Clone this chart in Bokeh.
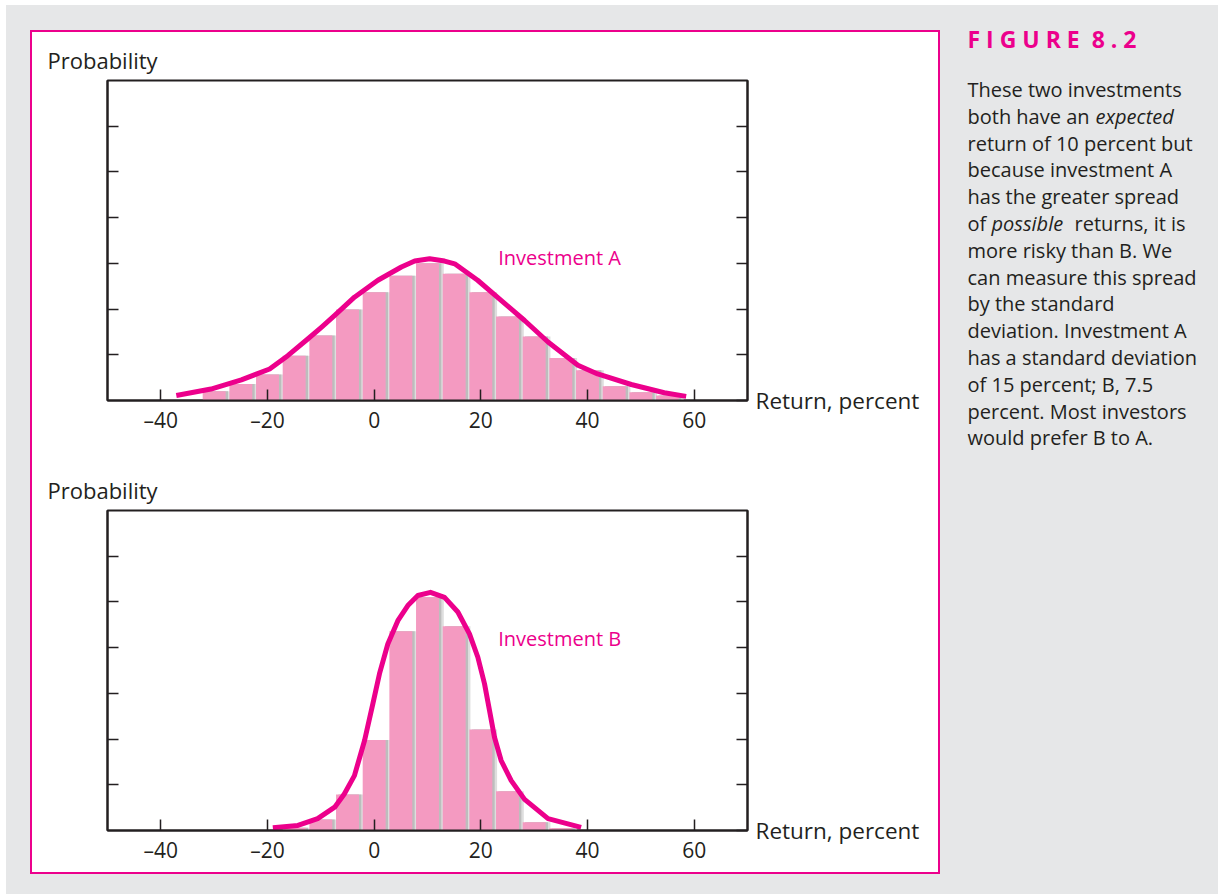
from bokeh.plotting import figure
from bokeh.models import (Range1d, LinearAxis, FixedTicker, Label, Column, Row,
                          ColumnDataSource, CustomJSTickFormatter)
from bokeh.transform import dodge
from bokeh.embed import file_html
from bokeh.resources import INLINE

# ---------------- data ----------------
bins_a = [-30, -25, -20, -15, -10, -5, 0, 5, 10, 15, 20, 25, 30, 35, 40, 45, 50, 55]
heights_a = [0.20, 0.36, 0.57, 0.98, 1.42, 1.99, 2.37, 2.73, 3.00, 2.77, 2.37, 1.84,
             1.40, 0.93, 0.66, 0.31, 0.18, 0.11]
curve_a_x = [-37.1, -30.6, -24.9, -19.6, -16.2, -12.4, -9.9, -7.4, -3.7, 0.7, 5.1, 7.6,
             10.4, 13.2, 15.1, 19.4, 23.8, 28.2, 32.6, 38.2, 41.9, 48.2, 54.4, 58.5]
curve_a_y = [0.11, 0.25, 0.45, 0.69, 0.98, 1.35, 1.60, 1.86, 2.26, 2.63, 2.92, 3.05,
             3.10, 3.05, 2.99, 2.63, 2.19, 1.75, 1.28, 0.77, 0.58, 0.35, 0.17, 0.09]

bins_b = [-15, -10, -5, 0, 5, 10, 15, 20, 25, 30, 35]
heights_b = [0.06, 0.24, 0.79, 1.98, 4.36, 5.10, 4.47, 2.21, 0.86, 0.18, 0.05]
curve_b_x = [-19.0, -14.3, -10.6, -7.4, -5.6, -3.7, -1.8, -0.25, 1.0, 2.56, 4.44, 6.31,
             8.19, 10.56, 13.19, 15.69, 17.87, 19.44, 20.69, 21.62, 22.56, 23.81, 25.7,
             28.2, 32.6, 38.8]
curve_b_y = [0.06, 0.11, 0.26, 0.51, 0.80, 1.20, 1.97, 2.77, 3.43, 4.08, 4.59, 4.92,
             5.14, 5.21, 5.10, 4.78, 4.30, 3.79, 3.21, 2.63, 2.04, 1.53, 1.09,
             0.68, 0.26, 0.07]

x_ticks = [-40, -20, 0, 20, 40, 60]
x_tick_labels = ["\u201340", "\u201320", "0", "20", "40", "60"]
y_ticks = [1, 2, 3, 4, 5, 6]

y_label = "Probability"
x_label = "Return, percent"
figure_title = "F\u00a0I\u00a0G\u00a0U\u00a0R\u00a0E\u00a0\u00a08\u00a0.\u00a02"
caption_lines = [
    [("These two investments", "normal")],
    [("both have an ", "normal"), ("expected", "italic")],
    [("return of 10 percent but", "normal")],
    [("because investment A", "normal")],
    [("has the greater spread", "normal")],
    [("of ", "normal"), ("possible", "italic"), ("returns, it is", "normal")],
    [("more risky than B. We", "normal")],
    [("can measure this spread", "normal")],
    [("by the standard", "normal")],
    [("deviation. Investment A", "normal")],
    [("has a standard deviation", "normal")],
    [("of 15 percent; B, 7.5", "normal")],
    [("percent. Most investors", "normal")],
    [("would prefer B to A.", "normal")],
]
# x start of each segment inside the caption column (pixels)
caption_seg_x = [[27], [27, 155], [27], [27], [27], [27, 51, 134], [27], [27], [27],
                 [27], [27], [27], [27], [27]]

# ---------------- style ----------------
INK = "#231f20"
MAG = "#ec008c"
PINK = "#f49ac1"
GRAY = "#e6e7e8"
FONT = "Open Sans"


def style_axis(ax):
    ax.major_tick_in = 11
    ax.major_tick_out = 0
    ax.minor_tick_line_color = None
    ax.axis_line_color = INK
    ax.axis_line_width = 2
    ax.major_tick_line_color = INK
    ax.major_tick_line_width = 1.5
    ax.major_label_text_font = FONT
    ax.major_label_text_font_size = "21px"
    ax.major_label_text_color = INK


def make_panel(bins, heights, cx, cy, name, name_x, name_y, height, top, bottom):
    p = figure(width=906, height=height, x_range=Range1d(-50, 70), y_range=Range1d(0, 7),
               output_backend="svg", toolbar_location=None,
               min_border_left=75, min_border_right=191,
               min_border_top=top, min_border_bottom=bottom,
               background_fill_color="white", border_fill_color="white",
               outline_line_color=INK, outline_line_width=2)
    p.grid.visible = False
    src = ColumnDataSource(dict(x=bins, top=heights))
    p.vbar(x=dodge("x", 0.9, range=p.x_range), top="top", width=4.3, source=src,
           fill_color="#dedede", line_color=None)
    p.vbar(x=dodge("x", 0.45, range=p.x_range), top="top", width=4.3, source=src,
           fill_color="#bdbdbd", line_color=None)
    p.vbar(x="x", top="top", width=4.3, source=src, fill_color=PINK, line_color=None)
    p.line(cx, cy, line_width=5, line_color=MAG, line_join="round")

    # title used as the "Probability" caption above the frame
    p.title.text = y_label
    p.title.align = "left"
    p.title.offset = -60
    p.title.standoff = 12
    p.title.text_font = FONT
    p.title.text_font_size = "22px"
    p.title.text_font_style = "normal"
    p.title.text_color = INK

    xa = p.xaxis[0]
    xa.ticker = FixedTicker(ticks=x_ticks)
    xa.formatter = CustomJSTickFormatter(
        args=dict(xt=x_ticks, xl=x_tick_labels),
        code="const i = xt.indexOf(tick); return i >= 0 ? xl[i] : String(tick);")
    style_axis(xa)
    xa.major_label_standoff = 5

    ya = p.yaxis[0]
    ya.ticker = FixedTicker(ticks=y_ticks)
    style_axis(ya)
    ya.major_label_text_font_size = "0px"
    ya.major_label_text_color = None

    ra = LinearAxis(ticker=FixedTicker(ticks=[0] + y_ticks),
                    formatter=CustomJSTickFormatter(
                        args=dict(lab=x_label),
                        code="return tick == 0 ? lab : '';"))
    p.add_layout(ra, "right")
    style_axis(ra)
    ra.major_label_text_font_size = "22.5px"
    ra.major_label_standoff = 8

    p.add_layout(Label(x=name_x, y=name_y, text=name, text_font=FONT,
                       text_font_size="20px", text_color=MAG,
                       text_baseline="alphabetic", text_align="left"))
    return p


fig_a = make_panel(bins_a, heights_a, curve_a_x, curve_a_y, "Investment A", 23.25, 3.13,
                   430, 48, 62)
fig_b = make_panel(bins_b, heights_b, curve_b_x, curve_b_y, "Investment B", 23.25, 4.19,
                   410, 48, 42)

CAP_W, CAP_H = 278, 889
cap = figure(width=CAP_W, height=CAP_H, x_range=Range1d(0, CAP_W),
             y_range=Range1d(CAP_H, 0), title_location=None,
             output_backend="svg", toolbar_location=None, x_axis_type=None,
             y_axis_type=None, min_border=0, background_fill_color=GRAY,
             border_fill_color=GRAY, outline_line_color=None)
cap.grid.visible = False
cap.add_layout(Label(x=27, y=33, text=figure_title, text_font=FONT,
                     text_font_style="bold", text_font_size="23px", text_color=MAG,
                     text_baseline="alphabetic", text_align="left"))
for i, (segs, xs) in enumerate(zip(caption_lines, caption_seg_x)):
    for (txt, style), sx in zip(segs, xs):
        cap.add_layout(Label(x=sx, y=84 + 26.8 * i, text=txt, text_font=FONT,
                             text_font_style=style, text_font_size="20px",
                             text_color=INK, text_baseline="alphabetic",
                             text_align="left"))

panel = Column(children=[fig_a, fig_b],
               styles={"border": "2px solid " + MAG, "background-color": "white"},
               margin=(25, 0, 0, 24))
page = Row(children=[panel, cap], styles={"background-color": GRAY},
           margin=(5, 0, 0, 6))

open("out.html", "w").write(file_html(page, INLINE))
